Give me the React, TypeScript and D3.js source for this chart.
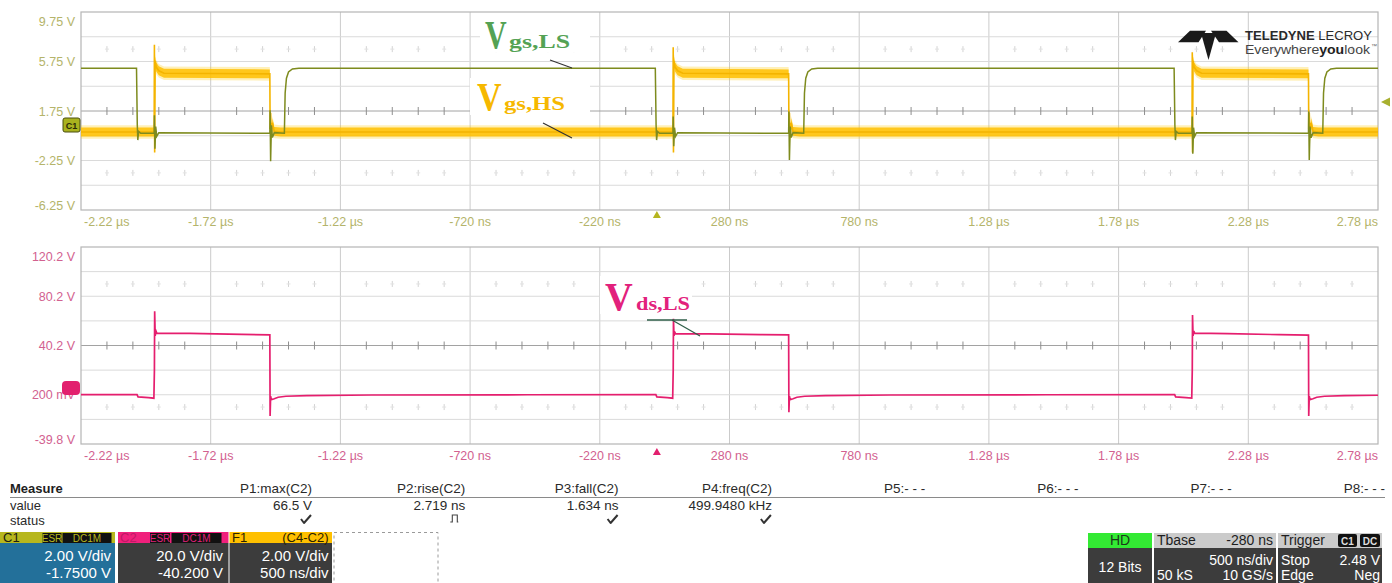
import React from "react";
import * as d3 from "d3";

// ---- data (time in µs, voltage in V) ----
const timeTicks = [-2.22, -1.72, -1.22, -0.72, -0.22, 0.28, 0.78, 1.28, 1.78, 2.28, 2.78];
const timeTickLabels = ["-2.22 µs", "-1.72 µs", "-1.22 µs", "-720 ns", "-220 ns", "280 ns", "780 ns", "1.28 µs", "1.78 µs", "2.28 µs", "2.78 µs"];
const topVoltTicks = [9.75, 5.75, 1.75, -2.25, -6.25];
const topVoltLabels = ["9.75 V", "5.75 V", "1.75 V", "-2.25 V", "-6.25 V"];
const botVoltTicks = [120.2, 80.2, 40.2, 0.2, -39.8];
const botVoltLabels = ["120.2 V", "80.2 V", "40.2 V", "200 mV", "-39.8 V"];

// low-side gate voltage (olive)
const vgsLs: [number, number][] = [
  [-2.22, 5.2], [-2.006, 5.2], [-2.003, 0.6], [-2.001, -0.6], [-1.998, 0.1], [-1.99, -0.05],
  [-1.938, -0.05], [-1.937, 1.4], [-1.935, -1.3], [-1.932, 0.5], [-1.928, -0.3], [-1.92, 0.0],
  [-1.492, -0.05], [-1.491, 1.8], [-1.489, -2.3], [-1.486, 0.6], [-1.482, -0.4], [-1.475, 0.0],
  [-1.436, -0.05], [-1.433, 3.2], [-1.428, 4.4], [-1.42, 4.9], [-1.405, 5.15], [-1.38, 5.2],
  [-0.006, 5.2], [-0.003, 0.6], [-0.001, -0.6], [0.002, 0.1], [0.01, -0.05],
  [0.062, -0.05], [0.063, 1.3], [0.065, -1.1], [0.068, 0.4], [0.072, -0.3], [0.08, 0.0],
  [0.508, -0.05], [0.509, 1.7], [0.511, -2.2], [0.514, 0.5], [0.518, -0.4], [0.525, 0.0],
  [0.566, -0.05], [0.569, 3.2], [0.574, 4.4], [0.582, 4.9], [0.597, 5.15], [0.62, 5.2],
  [1.994, 5.2], [1.997, 0.6], [1.999, -0.6], [2.002, 0.1], [2.01, -0.05],
  [2.063, -0.05], [2.064, 1.3], [2.066, -1.7], [2.069, 0.4], [2.073, -0.3], [2.08, 0.0],
  [2.512, -0.05], [2.513, 1.7], [2.515, -2.2], [2.518, 0.5], [2.522, -0.4], [2.53, 0.0],
  [2.567, -0.05], [2.57, 3.2], [2.575, 4.4], [2.583, 4.9], [2.598, 5.15], [2.62, 5.2], [2.78, 5.2],
];

// high-side gate voltage (yellow, C4-C2)
const vgsHs: [number, number][] = [
  [-2.22, 0.05], [-1.938, 0.05], [-1.937, 7.1], [-1.936, -1.6], [-1.934, 5.8], [-1.93, 5.3],
  [-1.92, 5.0], [-1.9, 4.8], [-1.492, 4.75], [-1.491, 0.3], [-1.489, 1.6], [-1.486, -0.3],
  [-1.482, 0.8], [-1.475, 0.1], [-1.45, 0.05],
  [0.062, 0.05], [0.063, 6.9], [0.064, -1.6], [0.066, 5.8], [0.07, 5.3], [0.08, 5.0], [0.1, 4.8],
  [0.508, 4.75], [0.509, 0.3], [0.511, 1.6], [0.514, -0.3], [0.518, 0.8], [0.525, 0.1], [0.55, 0.05],
  [2.063, 0.05], [2.064, 6.5], [2.065, -1.6], [2.067, 5.8], [2.071, 5.3], [2.081, 5.0], [2.1, 4.8],
  [2.512, 4.75], [2.513, 0.3], [2.515, 1.6], [2.518, -0.3], [2.522, 0.8], [2.53, 0.1], [2.55, 0.05],
  [2.78, 0.05],
];

// low-side drain-source voltage (pink, C2)
const vdsLs: [number, number][] = [
  [-2.22, 0.3], [-2.004, 0.3], [-2.0, -1.6], [-1.96, -2.2], [-1.939, -2.6], [-1.937, 20],
  [-1.936, 68], [-1.934, 48], [-1.931, 52], [-1.928, 50.3], [-1.8, 50.0], [-1.6, 49.3],
  [-1.492, 48.8], [-1.491, -17], [-1.489, -1.0], [-1.486, -3.8], [-1.475, -3.0], [-1.46, -1.8],
  [-1.43, -1.0], [-1.35, -0.5], [-1.1, 0.0], [-0.5, 0.2],
  [-0.004, 0.3], [0.0, -1.6], [0.04, -2.2], [0.061, -2.6], [0.063, 20], [0.064, 62], [0.066, 48],
  [0.069, 51], [0.072, 49.8], [0.2, 49.6], [0.4, 49.0], [0.508, 48.8], [0.509, -14], [0.511, -1.0],
  [0.514, -3.8], [0.525, -3.0], [0.54, -1.8], [0.57, -1.0], [0.65, -0.5], [0.9, 0.0], [1.5, 0.2],
  [1.996, 0.3], [2.0, -1.6], [2.04, -2.2], [2.062, -2.6], [2.064, 20], [2.065, 65], [2.067, 48],
  [2.07, 52], [2.073, 50.2], [2.2, 49.8], [2.4, 49.0], [2.512, 48.6], [2.513, -17], [2.515, -1.0],
  [2.518, -3.8], [2.529, -3.0], [2.544, -1.8], [2.574, -1.0], [2.65, -0.5], [2.78, -0.2],
];

const measureHeaders = ["P1:max(C2)", "P2:rise(C2)", "P3:fall(C2)", "P4:freq(C2)", "P5:- - -", "P6:- - -", "P7:- - -", "P8:- - -"];
const measureValues = ["66.5 V", "2.719 ns", "1.634 ns", "499.9480 kHz", "", "", "", ""];
const measureStatus = ["ok", "pulse", "ok", "ok", "", "", "", ""];

// ---- layout ----
const W = 1392;
const H = 583;
const FONT = "'Liberation Sans', Arial, sans-serif";
const SERIF = "'Liberation Serif', 'Times New Roman', serif";

const x = d3.scaleLinear().domain([-2.22, 2.78]).range([81, 1378]);
const yTop = d3.scaleLinear().domain([-6.25, 9.75]).range([210, 12]);
const yBot = d3.scaleLinear().domain([-39.8, 120.2]).range([444, 247]);

const minorTimes = d3.range(1, 50).filter(i => i % 5 !== 0).map(i => -2.22 + i * 0.1);

function Grid({ y, center, faint, labelColor, ticks, labels, tickLabelY }: any) {
  const [lo, hi] = y.domain();
  const step = (hi - lo) / 8;
  const hLines = d3.range(1, 8).map(i => lo + i * step);
  const y0 = y(hi), y1 = y(lo);
  return (
    <g>
      {timeTicks.slice(1, -1).map(t => (
        <line key={"v" + t} x1={x(t)} x2={x(t)} y1={y0} y2={y1} stroke="#cbcbcb" strokeWidth={1} />
      ))}
      {hLines.map(v => (
        <line key={"h" + v} x1={x(-2.22)} x2={x(2.78)} y1={y(v)} y2={y(v)}
          stroke={Math.abs(v - center) < 1e-6 ? "#a2a2a2" : "#dadada"} strokeWidth={1} />
      ))}
      {minorTimes.map(t => (
        <line key={"m" + t} x1={x(t)} x2={x(t)} y1={y(center) - 4} y2={y(center) + 4} stroke="#8e8e8e" strokeWidth={1} />
      ))}
      {faint.map((fv: number) => minorTimes.map(t => (
        <g key={"f" + fv + t}>
          <line x1={x(t)} x2={x(t)} y1={y(fv) - 3} y2={y(fv) + 3} stroke="#d3d3d3" strokeWidth={1} />
          <line x1={x(t) - 2} x2={x(t) + 2} y1={y(fv)} y2={y(fv)} stroke="#e2e2e2" strokeWidth={1} />
        </g>
      )))}
      <rect x={x(-2.22)} y={y0} width={x(2.78) - x(-2.22)} height={y1 - y0} fill="none" stroke="#b5b5b5" strokeWidth={1.2} />
      {ticks.map((v: number, i: number) => {
        let ty = y(v);
        if (i === 0) ty += 9.5;
        if (i === ticks.length - 1) ty -= 4.5;
        return (
          <text key={"yl" + v} x={75} y={ty + 4.5} textAnchor="end" fontSize={12.5} fill={labelColor} fontFamily={FONT}>
            {labels[i]}
          </text>
        );
      })}
      {timeTicks.map((t, i) => (
        <text key={"xl" + t} x={i === 0 ? x(t) + 3 : x(t)} y={tickLabelY}
          textAnchor={i === 0 ? "start" : i === timeTicks.length - 1 ? "end" : "middle"}
          fontSize={12.5} fill={labelColor} fontFamily={FONT}>
          {timeTickLabels[i]}
        </text>
      ))}
    </g>
  );
}

function Check({ cx, cy }: { cx: number; cy: number }) {
  return (
    <path d={`M${cx - 5},${cy - 1} L${cx - 2},${cy + 3} L${cx + 5},${cy - 5}`} fill="none" stroke="#333" strokeWidth={2} strokeLinejoin="round" />
  );
}

function Pulse({ cx, cy }: { cx: number; cy: number }) {
  return (
    <path d={`M${cx - 5},${cy + 3} h2 v-7 h5 v7 h1`} fill="none" stroke="#444" strokeWidth={1.1} />
  );
}

// big serif "V" with a subscript, squeezed horizontally like the overlay in the figure
function Label({ vx, vy, sx, vScale, sub, subLen, color }: any) {
  return (
    <g>
      <text transform={`translate(${vx},${vy}) scale(${vScale},1)`} fontFamily={SERIF} fontWeight="bold" fontSize={40} fill={color}>V</text>
      <text x={sx} y={vy} fontFamily={SERIF} fontWeight="bold" fontSize={19} fill={color} textLength={subLen} lengthAdjust="spacingAndGlyphs">{sub}</text>
    </g>
  );
}

export default function App() {
  const lineTop = d3.line<[number, number]>().x(d => x(d[0])).y(d => yTop(d[1]));
  const lineBot = d3.line<[number, number]>().x(d => x(d[0])).y(d => yBot(d[1]));
  const band = (half: number) =>
    d3.area<[number, number]>().x(d => x(d[0])).y0(d => yTop(d[1] - half)).y1(d => yTop(d[1] + half));

  const colX = measureHeaders.map((_, i) => 312 + i * 153.3);

  return (
    <svg width={W} height={H} style={{ position: "absolute", left: 0, top: 0, background: "#fff" }} fontFamily={FONT}>
      <rect x={0} y={0} width={W} height={H} fill="#fff" />

      {/* top panel */}
      <Grid y={yTop} center={1.75} faint={[6.75, -3.25]} labelColor="#b4b46a"
        ticks={topVoltTicks} labels={topVoltLabels} tickLabelY={226} />
      {/* bottom panel */}
      <Grid y={yBot} center={40.2} faint={[90.2, -9.8]} labelColor="#d2618f"
        ticks={botVoltTicks} labels={botVoltLabels} tickLabelY={460} />

      {/* label backgrounds */}
      <rect x={480} y={17} width={110} height={35} fill="#fff" />
      <rect x={470} y={78} width={120} height={37} fill="#fff" />
      <rect x={600} y={276} width={92} height={38} fill="#fff" />

      {/* waveforms */}
      <path d={band(0.55)(vgsHs) || ""} fill="#ffc800" opacity={0.28} />
      <path d={band(0.36)(vgsHs) || ""} fill="#ffbf00" opacity={0.85} />
      <path d={lineTop(vgsHs) || ""} fill="none" stroke="#f4b400" strokeWidth={1.6} />
      <path d={lineTop(vgsLs) || ""} fill="none" stroke="#7e8b1e" strokeWidth={1.5} />
      <path d={lineBot(vdsLs) || ""} fill="none" stroke="#e51e6e" strokeWidth={1.7} />

      {/* annotation labels */}
      <Label vx={485} vy={48} sx={509} vScale={0.75} sub="gs,LS" subLen={61} color="#54a254" />
      <line x1={550} y1={60} x2={572} y2={68} stroke="#333" strokeWidth={1.2} />

      <Label vx={477} vy={110} sx={504} vScale={0.85} sub="gs,HS" subLen={61} color="#f6b800" />
      <line x1={543} y1={123} x2={572} y2={138} stroke="#333" strokeWidth={1.2} />

      <Label vx={605} vy={310} sx={636} vScale={0.96} sub="ds,LS" subLen={54} color="#e2217c" />
      <line x1={647} y1={320} x2={687} y2={320} stroke="#2e5e48" strokeWidth={1.3} />
      <line x1={672} y1={320} x2={700} y2={336} stroke="#2e5e48" strokeWidth={1.3} />

      {/* channel markers */}
      <rect x={63} y={118} width={17} height={14} rx={2} fill="#a9b21e" stroke="#4a4e10" strokeWidth={1} />
      <text x={71.5} y={128.5} textAnchor="middle" fontSize={9} fill="#2a2a08" fontWeight="bold">C1</text>
      <rect x={62} y={381} width={18} height={14} rx={4} fill="#e2206e" />

      {/* trigger markers */}
      <path d={`M${x(0) - 4},${218} L${x(0) + 4},${218} L${x(0)},${211} Z`} fill="#b5b520" />
      <path d={`M${x(0) - 4},${455} L${x(0) + 4},${455} L${x(0)},${448} Z`} fill="#e2206e" />
      <path d={`M1381,${yTop(2.48)} L1390,${yTop(2.48) - 4.5} L1390,${yTop(2.48) + 4.5} Z`} fill="#a8b030" />

      {/* logo */}
      <g fill="#1a1a1a">
        <path d="M1178,42.3 L1190,30.7 L1206,30.7 L1198.5,42.3 Z" />
        <path d="M1238.5,42.3 L1226.5,30.7 L1211,30.7 L1219,42.3 Z" />
        <path d="M1201,33 L1216,33 L1208.5,60 Z" />
      </g>
      <text x={1245} y={39.5} fontSize={13} fill="#2a2a2a" textLength={127} lengthAdjust="spacingAndGlyphs">
        <tspan fontWeight="bold">TELEDYNE</tspan> LECROY
      </text>
      <text x={1245} y={54} fontSize={13} fill="#444" textLength={125} lengthAdjust="spacingAndGlyphs">
        Everywhere<tspan fontWeight="bold" fill="#222">you</tspan>look
      </text>
      <text x={1371} y={48} fontSize={6} fill="#666">™</text>

      {/* measure table */}
      <text x={10} y={493} fontSize={13} fontWeight="bold" fill="#1e1e1e">Measure</text>
      <line x1={10} x2={1385} y1={497.5} y2={497.5} stroke="#8a8a8a" strokeWidth={1} />
      <text x={10} y={509.5} fontSize={13} fill="#2a2a2a">value</text>
      <text x={10} y={524.5} fontSize={13} fill="#2a2a2a">status</text>
      {measureHeaders.map((h, i) => (
        <text key={h} x={colX[i]} y={493} textAnchor="end" fontSize={13.5} fill="#2a2a2a">{h}</text>
      ))}
      {measureValues.map((v, i) => v && (
        <text key={"mv" + i} x={colX[i]} y={509.5} textAnchor="end" fontSize={13.5} fill="#2a2a2a">{v}</text>
      ))}
      {measureStatus.map((s, i) =>
        s === "ok" ? <Check key={"ms" + i} cx={colX[i] - 6} cy={520} /> :
        s === "pulse" ? <Pulse key={"ms" + i} cx={colX[i] - 10} cy={519} /> : null
      )}

      {/* channel descriptor boxes */}
      <g>
        <rect x={0} y={532} width={115} height={11} fill="#b7b71e" />
        <rect x={0} y={543} width={115} height={40} fill="#23709a" />
        <text x={3} y={542} fontSize={13} fill="#202010">C1</text>
        <rect x={42.5} y={533} width={19} height={10} fill="#111" />
        <text x={52} y={541.5} textAnchor="middle" fontSize={10} fill="#b7b71e">ESR</text>
        <rect x={62.5} y={533} width={49} height={10} fill="#111" />
        <text x={87} y={541.5} textAnchor="middle" fontSize={10} fill="#b7b71e">DC1M</text>
        <text x={111} y={561} textAnchor="end" fontSize={15} fill="#fff">2.00 V/div</text>
        <text x={111} y={578} textAnchor="end" fontSize={15} fill="#fff">-1.7500 V</text>

        <rect x={118} y={532} width={110.5} height={11} fill="#f0207c" />
        <rect x={118} y={543} width={110.5} height={40} fill="#3c3c3c" />
        <text x={120} y={542} fontSize={13} fill="#c01865">C2</text>
        <rect x={150} y={533} width={20} height={10} fill="#111" />
        <text x={160} y={541.5} textAnchor="middle" fontSize={10} fill="#e0207a">ESR</text>
        <rect x={171.5} y={533} width={50} height={10} fill="#111" />
        <text x={196.5} y={541.5} textAnchor="middle" fontSize={10} fill="#e0207a">DC1M</text>
        <text x={223} y={561} textAnchor="end" fontSize={15} fill="#fff">20.0 V/div</text>
        <text x={223} y={578} textAnchor="end" fontSize={15} fill="#fff">-40.200 V</text>

        <rect x={229.5} y={532} width={102.5} height={11} fill="#ffc000" />
        <rect x={229.5} y={543} width={102.5} height={40} fill="#3c3c3c" />
        <text x={232} y={542} fontSize={13} fill="#2a2000">F1</text>
        <text x={328.5} y={542} textAnchor="end" fontSize={13} fill="#2a2000">(C4-C2)</text>
        <text x={328.5} y={561} textAnchor="end" fontSize={15} fill="#fff">2.00 V/div</text>
        <text x={328.5} y={578} textAnchor="end" fontSize={15} fill="#fff">500 ns/div</text>

        <rect x={334} y={532.5} width={104} height={55} fill="none" stroke="#9a9a9a" strokeDasharray="3,3" />
      </g>

      {/* acquisition status boxes */}
      <g>
        <rect x={1088} y={533} width={64} height={15} fill="#33ea33" />
        <rect x={1088} y={548} width={64} height={35} fill="#3c3c3c" />
        <text x={1120} y={545} textAnchor="middle" fontSize={14} fill="#1a3a1a">HD</text>
        <text x={1120} y={572} textAnchor="middle" fontSize={14} fill="#fff">12 Bits</text>

        <rect x={1154} y={533} width={122} height={15} fill="#cbcbcb" />
        <rect x={1154} y={548} width={122} height={35} fill="#3c3c3c" />
        <text x={1157} y={545} fontSize={14} fill="#1e1e1e">Tbase</text>
        <text x={1273} y={545} textAnchor="end" fontSize={14} fill="#1e1e1e">-280 ns</text>
        <text x={1273} y={565} textAnchor="end" fontSize={14} fill="#fff">500 ns/div</text>
        <text x={1157} y={579.5} fontSize={14} fill="#fff">50 kS</text>
        <text x={1273} y={579.5} textAnchor="end" fontSize={14} fill="#fff">10 GS/s</text>

        <rect x={1278} y={533} width={104} height={15} fill="#cbcbcb" />
        <rect x={1278} y={548} width={104} height={35} fill="#3c3c3c" />
        <text x={1281} y={545} fontSize={14} fill="#1e1e1e">Trigger</text>
        <rect x={1338} y={534} width={19} height={13} rx={2} fill="#111" />
        <text x={1347.5} y={544.5} textAnchor="middle" fontSize={10} fontWeight="bold" fill="#ddd">C1</text>
        <rect x={1360} y={534} width={20} height={13} rx={2} fill="#111" />
        <text x={1370} y={544.5} textAnchor="middle" fontSize={10} fontWeight="bold" fill="#ddd">DC</text>
        <text x={1281} y={565} fontSize={14} fill="#fff">Stop</text>
        <text x={1380} y={565} textAnchor="end" fontSize={14} fill="#fff">2.48 V</text>
        <text x={1281} y={579.5} fontSize={14} fill="#fff">Edge</text>
        <text x={1380} y={579.5} textAnchor="end" fontSize={14} fill="#fff">Neg</text>
      </g>
    </svg>
  );
}
